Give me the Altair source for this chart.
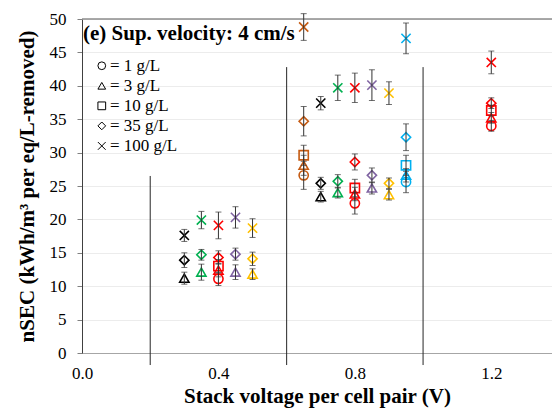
import altair as alt
import pandas as pd

# ---- data ----
voltage = [0.30, 0.35, 0.40, 0.45, 0.50, 0.65, 0.70, 0.75, 0.80, 0.85, 0.90, 0.95, 1.20]
group = ["black", "green", "red", "purple", "yellow",
         "brown", "black", "green", "red", "purple", "yellow", "blue", "red"]

conc_labels = ["1 g/L", "3 g/L", "10 g/L", "35 g/L", "100 g/L"]

nsec_1 = [None, None, 11.1, None, None, 26.6, None, None, 22.4, None, None, 25.6, 34.0]
nsec_3 = [11.2, 12.1, 12.4, 12.1, 11.8, 28.1, 23.4, 24.0, 23.8, 24.7, 23.7, 26.6, 35.2]
nsec_10 = [None, None, 13.0, None, None, 29.6, None, None, 24.7, None, None, 28.1, 36.3]
nsec_35 = [13.9, 14.7, 14.3, 14.8, 14.1, 34.7, 25.4, 25.7, 28.6, 26.6, 25.4, 32.3, 37.4]
nsec_100 = [17.6, 19.9, 19.1, 20.3, 18.7, 48.8, 37.4, 39.7, 39.7, 40.1, 38.9, 47.1, 43.5]

err_1 = [None, None, 1.0, None, None, 2.1, None, None, 1.6, None, None, 1.6, 0.8]
err_3 = [0.9, 1.2, 1.0, 1.1, 0.8, 1.5, 0.8, 0.8, 1.0, 0.9, 0.8, 1.0, 0.8]
err_10 = [None, None, 1.0, None, None, 1.5, None, None, 1.3, None, None, 1.5, 0.8]
err_35 = [1.1, 0.8, 1.0, 0.9, 1.0, 2.2, 0.9, 1.0, 1.2, 1.1, 0.8, 2.0, 0.8]
err_100 = [0.9, 1.3, 2.0, 1.6, 1.4, 2.0, 1.0, 1.9, 2.2, 2.3, 1.7, 2.3, 1.7]

sep_x = [0.2, 0.6, 1.0]
sep_top = [26.5, 42.8, 42.8]

x_ticks = [0.0, 0.4, 0.8, 1.2]
y_ticks = [0, 5, 10, 15, 20, 25, 30, 35, 40, 45, 50]

title_text = "(e) Sup. velocity: 4 cm/s"

# ---- build tables ----
series_vals = [nsec_1, nsec_3, nsec_10, nsec_35, nsec_100]
series_errs = [err_1, err_3, err_10, err_35, err_100]
rows = []
for lab, vals, errs in zip(conc_labels, series_vals, series_errs):
    for v, g, y, e in zip(voltage, group, vals, errs):
        if y is None:
            continue
        rows.append({"V": v, "grp": g, "conc": lab, "nSEC": y,
                     "lo": y - e, "hi": y + e})
df = pd.DataFrame(rows)

sep_df = pd.DataFrame({"V": sep_x, "top": sep_top, "bottom": [-1.8] * len(sep_x)})

leg_df = pd.DataFrame({
    "conc": conc_labels,
    "label": ["= " + c for c in conc_labels],
    "lx": [0.058] * 5,
    "tx": [0.082] * 5,
    "ly": [43.0 - 3.0 * i for i in range(5)],
})

FONT = "Liberation Serif"
color_dom = ["black", "green", "red", "purple", "yellow", "brown", "blue"]
color_rng = ["#000000", "#00B050", "#FF0000", "#8064A2", "#FFC000", "#C55A11", "#00B0F0"]
x_path = "M-1,-1L1,1M1,-1L-1,1"
shape_rng = ["circle", "triangle-up", "square", "diamond", x_path]

xscale = alt.Scale(domain=[0, 1.378], nice=False, zero=False)
yscale = alt.Scale(domain=[0, 50], nice=False)

xaxis = alt.Axis(values=x_ticks, tickCount=4, format=".1f", grid=False, ticks=False,
                 labelOverlap=False, labelFlush=False, labelBound=False,
                 domainColor="#a6a6a6", labelFont=FONT, labelFontSize=17,
                 labelColor="#000", labelPadding=12,
                 title="Stack voltage per cell pair (V)", titleFont=FONT,
                 titleFontSize=21, titleFontWeight="bold", titleColor="#000",
                 titlePadding=4)
yaxis = alt.Axis(values=y_ticks, grid=True, gridColor="#ececec", tickColor="#808080",
                 labelOverlap=False,
                 tickSize=5, domainColor="#404040", labelFont=FONT, labelFontSize=17,
                 labelColor="#000", labelPadding=11,
                 title="nSEC (kWh/m³ per eq/L-removed)", titleFont=FONT,
                 titleFontSize=21, titleFontWeight="bold", titleColor="#000",
                 titlePadding=12)

X = lambda f: alt.X(f, type="quantitative", scale=xscale, axis=xaxis)
Y = lambda f: alt.Y(f, type="quantitative", scale=yscale, axis=yaxis)

base = alt.Chart(df)

points = base.mark_point(filled=False, strokeWidth=1.6, size=85, opacity=1).encode(
    x=X("V"), y=Y("nSEC"),
    color=alt.Color("grp:N", scale=alt.Scale(domain=color_dom, range=color_rng), legend=None),
    shape=alt.Shape("conc:N", scale=alt.Scale(domain=conc_labels, range=shape_rng), legend=None),
)

ebar = base.mark_rule(color="#333333", strokeWidth=1).encode(
    x=X("V"), y=Y("lo"), y2="hi:Q")
cap_lo = base.mark_tick(color="#333333", orient="horizontal", size=6, thickness=1).encode(
    x=X("V"), y=Y("lo"))
cap_hi = base.mark_tick(color="#333333", orient="horizontal", size=6, thickness=1).encode(
    x=X("V"), y=Y("hi"))

seps = alt.Chart(sep_df).mark_rule(color="#262626", strokeWidth=1).encode(
    x=X("V"), y=Y("bottom"), y2="top:Q")

top_line = alt.Chart(pd.DataFrame({"y": [50]})).mark_rule(color="#8c8c8c", strokeWidth=1.5).encode(
    y=Y("y"))

leg_pts = alt.Chart(leg_df).mark_point(filled=False, color="#000", strokeWidth=1, size=60, opacity=1).encode(
    x=X("lx"), y=Y("ly"),
    shape=alt.Shape("conc:N", scale=alt.Scale(domain=conc_labels, range=shape_rng), legend=None))
leg_txt = alt.Chart(leg_df).mark_text(align="left", baseline="middle", font=FONT,
                                      fontSize=17, color="#000").encode(
    x=X("tx"), y=Y("ly"), text="label:N")

title = alt.Chart(pd.DataFrame({"t": [title_text]})).mark_text(
    align="left", baseline="middle", font=FONT, fontSize=21, fontWeight="bold", color="#000"
).encode(x=alt.value(1), y=alt.value(15), text="t:N")

chart = alt.layer(points, top_line, seps, ebar, cap_lo, cap_hi, leg_pts, leg_txt, title).properties(
    width=470, height=334,
    autosize=alt.AutoSizeParams(type="none"),
    padding={"left": 82, "top": 19, "right": 0, "bottom": 60},
).configure_view(stroke=None).configure_axisX(labelOverlap=False).configure(background="white")

chart.save("out.html", embed_options={"renderer": "svg", "actions": False})
